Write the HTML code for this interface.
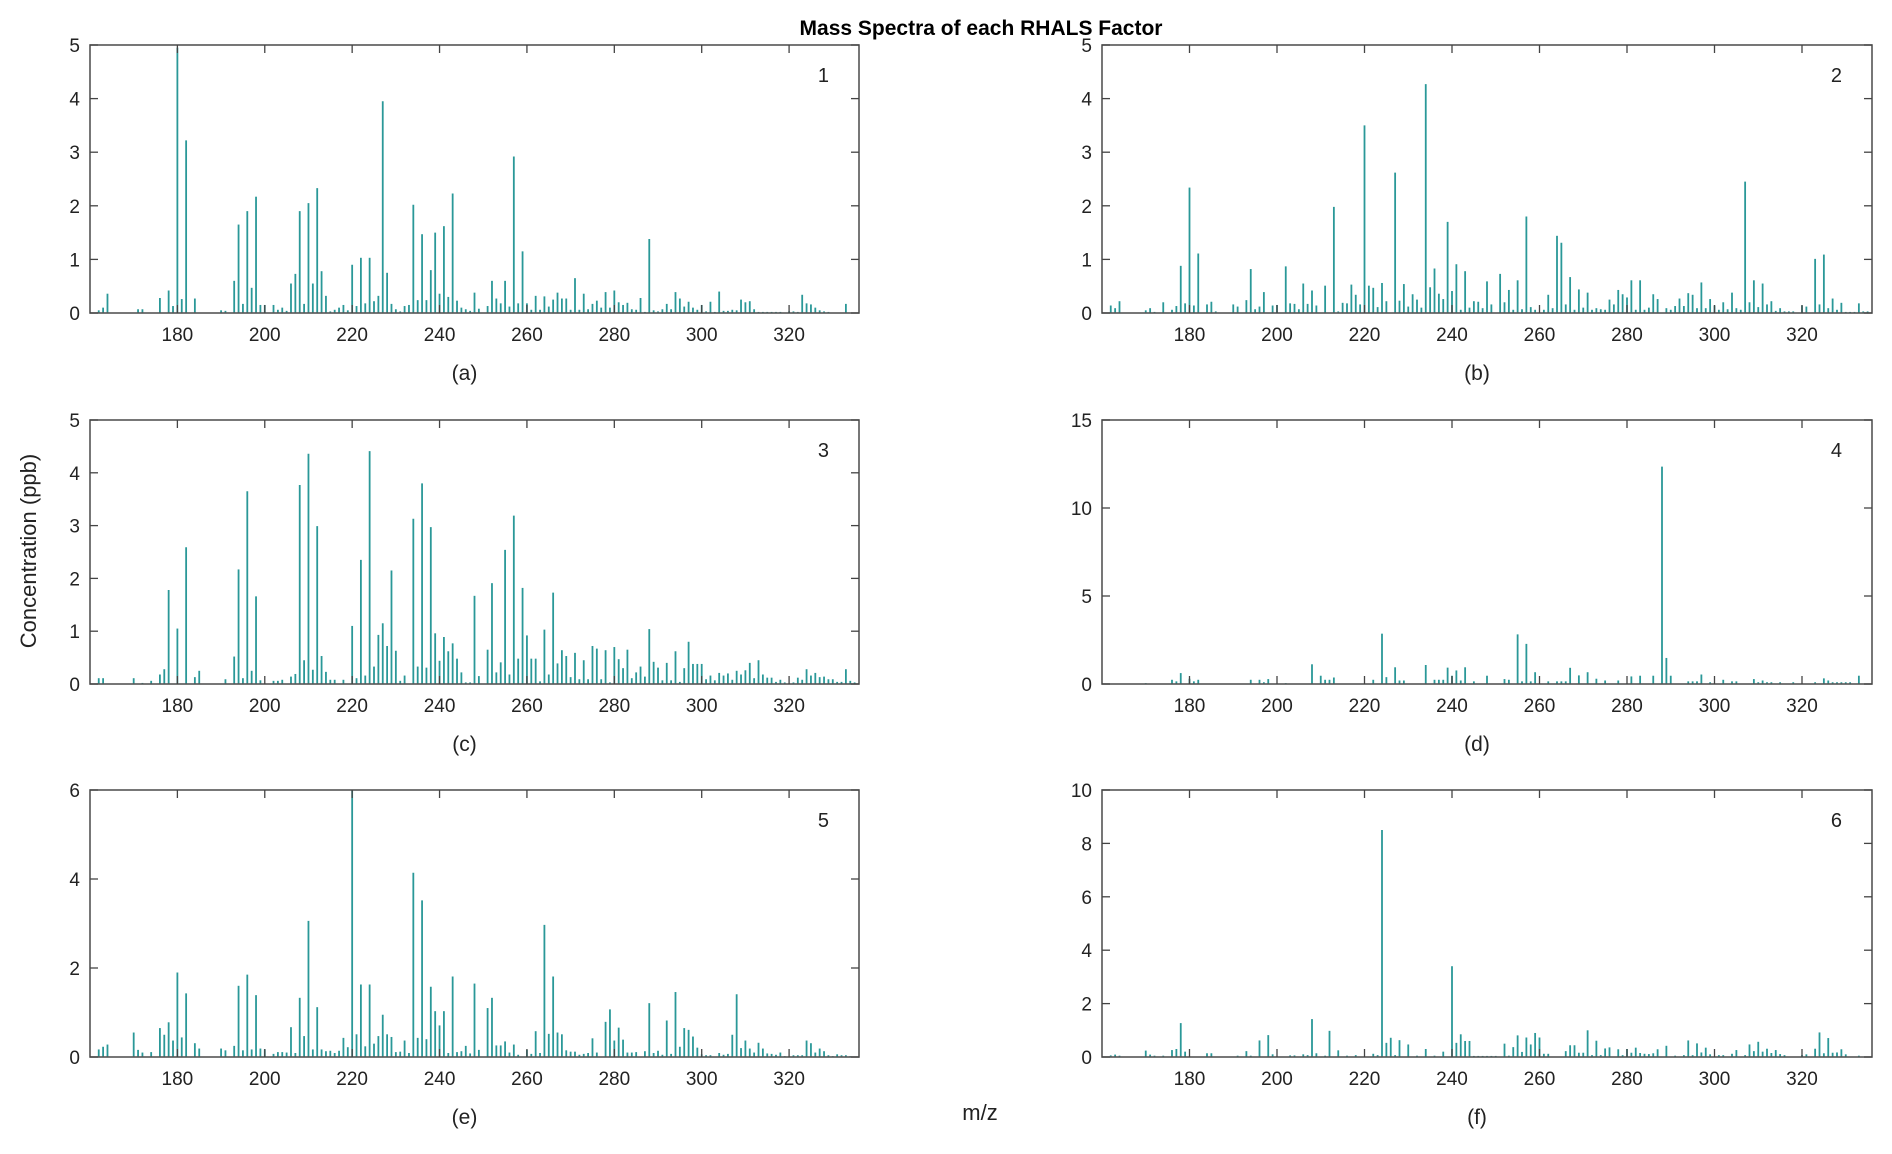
<!DOCTYPE html>
<html><head><meta charset="utf-8"><style>
html,body{margin:0;padding:0;background:#fff;}
svg{display:block;}
text{font-family:"Liberation Sans",sans-serif;fill:#222;}
</style></head><body>
<svg id="fig" width="1892" height="1154" viewBox="0 0 1892 1154" xmlns="http://www.w3.org/2000/svg">
<text x="981" y="35" text-anchor="middle" font-size="21" font-weight="bold" style="fill:#000">Mass Spectra of each RHALS Factor</text>
<text transform="translate(36,551) rotate(-90)" text-anchor="middle" font-size="22">Concentration (ppb)</text>
<text x="980" y="1120" text-anchor="middle" font-size="22">m/z</text>
<g id="panels"></g>
</svg>
<script>
const xTicks = [180,200,220,240,260,280,300,320];
const xDomain = [160,336];
const panelIds = ['1','2','3','4','5','6'];
const subLabels = ['(a)','(b)','(c)','(d)','(e)','(f)'];
const yMax = [5,5,5,15,6,10];
const yStep = [1,1,1,5,2,2];

const spec1 = [[162,.05],[163,.1],[164,.36],[171,.07],[172,.07],[176,.28],[178,.42],[179,.13],[180,4.95],[181,.26],[182,3.22],[184,.27],[190,.05],[191,.04],[193,.6],[194,1.65],[195,.17],[196,1.9],[197,.47],[198,2.17],[199,.15],[200,.15],[202,.15],[203,.06],[204,.1],[205,.04],[206,.55],[207,.73],[208,1.9],[209,.17],[210,2.05],[211,.55],[212,2.33],[213,.78],[214,.32],[215,.03],[216,.06],[217,.1],[218,.15],[219,.05],[220,.9],[221,.13],[222,1.03],[223,.18],[224,1.03],[225,.22],[226,.32],[227,3.95],[228,.75],[229,.17],[230,.07],[231,.03],[232,.13],[233,.15],[234,2.02],[235,.24],[236,1.47],[237,.24],[238,.8],[239,1.5],[240,.36],[241,1.62],[242,.3],[243,2.23],[244,.23],[245,.1],[246,.07],[247,.04],[248,.38],[249,.08],[251,.13],[252,.6],[253,.27],[254,.18],[255,.6],[256,.12],[257,2.92],[258,.18],[259,1.15],[260,.18],[261,.06],[262,.32],[263,.06],[264,.31],[265,.12],[266,.25],[267,.38],[268,.27],[269,.27],[270,.06],[271,.65],[272,.06],[273,.36],[274,.07],[275,.17],[276,.23],[277,.1],[278,.39],[279,.1],[280,.42],[281,.2],[282,.15],[283,.19],[284,.07],[285,.06],[286,.28],[287,.02],[288,1.38],[289,.05],[290,.03],[291,.07],[292,.17],[293,.07],[294,.39],[295,.27],[296,.12],[297,.21],[298,.1],[299,.06],[300,.15],[301,.03],[302,.21],[303,.02],[304,.4],[305,.04],[306,.04],[307,.06],[308,.05],[309,.25],[310,.2],[311,.22],[312,.07],[313,.02],[314,.02],[315,.02],[316,.02],[317,.02],[318,.02],[320,.03],[321,.03],[322,.02],[323,.34],[324,.18],[325,.16],[326,.1],[327,.05],[328,.03],[329,.02],[333,.17]];

const spec2 = [[162,.14],[163,.09],[164,.22],[170,.05],[171,.09],[172,.02],[174,.2],[176,.06],[177,.13],[178,.88],[179,.18],[180,2.34],[181,.14],[182,1.11],[184,.16],[185,.21],[186,.03],[190,.16],[191,.12],[193,.24],[194,.82],[195,.07],[196,.12],[197,.39],[199,.14],[200,.15],[202,.87],[203,.18],[204,.17],[205,.07],[206,.55],[207,.17],[208,.42],[209,.14],[211,.51],[213,1.98],[214,.03],[215,.19],[216,.18],[217,.53],[218,.34],[219,.16],[220,3.5],[221,.51],[222,.47],[223,.11],[224,.56],[225,.22],[227,2.62],[228,.23],[229,.54],[230,.12],[231,.35],[232,.25],[233,.1],[234,4.27],[235,.48],[236,.83],[237,.36],[238,.26],[239,1.7],[240,.41],[241,.91],[242,.06],[243,.78],[244,.1],[245,.22],[246,.21],[247,.09],[248,.59],[249,.16],[251,.73],[252,.2],[253,.43],[254,.06],[255,.61],[256,.07],[257,1.8],[258,.11],[259,.06],[261,.06],[262,.34],[263,.09],[264,1.44],[265,1.31],[266,.16],[267,.67],[268,.06],[269,.44],[270,.1],[271,.38],[272,.06],[273,.09],[274,.07],[275,.06],[276,.25],[277,.16],[278,.43],[279,.35],[280,.29],[281,.61],[282,.06],[283,.61],[284,.06],[285,.1],[286,.35],[287,.26],[289,.09],[290,.06],[291,.13],[292,.27],[293,.13],[294,.37],[295,.34],[296,.09],[297,.57],[298,.09],[299,.26],[300,.14],[301,.06],[302,.2],[303,.07],[304,.38],[305,.09],[306,.06],[307,2.45],[308,.2],[309,.61],[310,.11],[311,.55],[312,.16],[313,.22],[314,.04],[315,.09],[316,.03],[317,.03],[318,.03],[320,.14],[321,.12],[323,1.01],[324,.16],[325,1.09],[326,.09],[327,.27],[328,.06],[329,.19],[330,.02],[331,.02],[332,.02],[333,.18],[334,.03],[335,.03]];

const spec3 = [[162,.11],[163,.11],[170,.11],[172,.02],[174,.06],[176,.18],[177,.28],[178,1.78],[180,1.05],[182,2.59],[184,.13],[185,.25],[191,.09],[193,.52],[194,2.17],[195,.11],[196,3.65],[197,.25],[198,1.66],[199,.07],[202,.06],[203,.06],[204,.08],[206,.14],[207,.19],[208,3.77],[209,.45],[210,4.36],[211,.27],[212,2.99],[213,.53],[214,.23],[215,.08],[216,.08],[218,.08],[220,1.1],[221,.11],[222,2.35],[223,.16],[224,4.41],[225,.33],[226,.93],[227,1.15],[228,.72],[229,2.15],[230,.63],[231,.06],[232,.16],[234,3.13],[235,.33],[236,3.8],[237,.31],[238,2.97],[239,.96],[240,.44],[241,.89],[242,.62],[243,.77],[244,.48],[245,.22],[246,.03],[247,.03],[248,1.67],[249,.15],[251,.65],[252,1.91],[253,.22],[254,.41],[255,2.54],[256,.18],[257,3.19],[258,.48],[259,1.82],[260,.92],[261,.48],[262,.48],[263,.05],[264,1.03],[265,.18],[266,1.73],[267,.39],[268,.64],[269,.53],[270,.13],[271,.59],[272,.09],[273,.45],[274,.09],[275,.72],[276,.67],[277,.09],[278,.64],[279,.03],[280,.7],[281,.47],[282,.3],[283,.65],[284,.11],[285,.22],[286,.33],[287,.14],[288,1.04],[289,.42],[290,.31],[291,.07],[292,.4],[293,.07],[294,.62],[295,.04],[296,.3],[297,.8],[298,.38],[299,.38],[300,.38],[301,.09],[302,.16],[303,.07],[304,.21],[305,.16],[306,.2],[307,.08],[308,.25],[309,.18],[310,.26],[311,.4],[312,.11],[313,.45],[314,.18],[315,.12],[316,.12],[317,.04],[318,.08],[319,.03],[321,.03],[322,.12],[323,.08],[324,.28],[325,.16],[326,.21],[327,.13],[328,.14],[329,.09],[330,.09],[331,.04],[332,.04],[333,.28],[334,.06],[335,.03]];

const spec4 = [[170,.05],[176,.24],[177,.15],[178,.62],[180,.3],[181,.15],[182,.24],[194,.24],[196,.24],[197,.1],[198,.28],[202,.05],[208,1.12],[210,.47],[211,.24],[212,.24],[213,.37],[222,.24],[224,2.86],[225,.39],[227,.95],[228,.2],[229,.2],[234,1.08],[236,.24],[237,.24],[238,.24],[239,.93],[240,.47],[241,.77],[242,.2],[243,.95],[245,.15],[248,.47],[252,.28],[253,.24],[255,2.82],[256,.15],[257,2.28],[258,.15],[259,.67],[262,.15],[264,.15],[265,.15],[266,.15],[267,.92],[269,.49],[271,.67],[273,.3],[275,.2],[278,.2],[281,.43],[283,.47],[286,.47],[288,12.35],[289,1.48],[290,.47],[294,.15],[295,.15],[296,.15],[297,.54],[299,.1],[302,.24],[304,.15],[305,.15],[309,.28],[310,.1],[311,.2],[312,.1],[313,.1],[315,.1],[318,.1],[323,.1],[325,.32],[326,.2],[327,.1],[328,.1],[329,.1],[330,.1],[331,.1],[333,.47]];

const spec5 = [[162,.17],[163,.23],[164,.28],[170,.55],[171,.16],[172,.1],[174,.11],[176,.65],[177,.5],[178,.78],[179,.37],[180,1.9],[181,.44],[182,1.43],[184,.31],[185,.19],[190,.19],[191,.15],[193,.25],[194,1.6],[195,.15],[196,1.85],[197,.17],[198,1.39],[199,.19],[200,.17],[202,.07],[203,.11],[204,.11],[205,.1],[206,.67],[207,.09],[208,1.33],[209,.47],[210,3.06],[211,.17],[212,1.12],[213,.17],[214,.13],[215,.14],[216,.09],[217,.14],[218,.43],[219,.22],[220,6.0],[221,.51],[222,1.63],[223,.24],[224,1.63],[225,.3],[226,.47],[227,.95],[228,.51],[229,.45],[230,.11],[231,.12],[232,.37],[233,.09],[234,4.14],[235,.43],[236,3.52],[237,.4],[238,1.58],[239,1.03],[240,.71],[241,1.03],[242,.09],[243,1.81],[244,.11],[245,.13],[246,.25],[247,.08],[248,1.65],[249,.16],[251,1.1],[252,1.33],[253,.26],[254,.26],[255,.35],[256,.1],[257,.28],[258,.05],[260,.16],[261,.07],[262,.58],[263,.09],[264,2.97],[265,.52],[266,1.81],[267,.55],[268,.51],[269,.15],[270,.12],[271,.12],[272,.05],[273,.07],[274,.09],[275,.42],[276,.1],[278,.79],[279,1.07],[280,.37],[281,.66],[282,.39],[283,.1],[284,.1],[285,.11],[287,.13],[288,1.21],[289,.09],[290,.14],[291,.05],[292,.82],[293,.07],[294,1.46],[295,.23],[296,.65],[297,.61],[298,.46],[299,.21],[300,.06],[301,.04],[302,.04],[304,.09],[305,.05],[306,.07],[307,.5],[308,1.41],[309,.2],[310,.37],[311,.19],[312,.1],[313,.32],[314,.19],[315,.08],[316,.07],[317,.05],[318,.1],[319,.02],[321,.04],[322,.04],[323,.04],[324,.37],[325,.31],[326,.1],[327,.19],[328,.13],[329,.04],[330,.02],[331,.06],[332,.04],[333,.04],[334,.02]];

const spec6 = [[162,.06],[163,.09],[164,.05],[170,.24],[171,.09],[172,.05],[174,.05],[176,.26],[177,.3],[178,1.27],[179,.2],[184,.14],[185,.14],[191,.05],[193,.22],[194,.05],[196,.62],[198,.82],[199,.1],[203,.06],[204,.06],[206,.1],[207,.07],[208,1.42],[209,.14],[211,.05],[212,.98],[214,.25],[216,.05],[218,.07],[222,.12],[223,.07],[224,8.5],[225,.53],[226,.72],[227,.07],[228,.63],[230,.47],[232,.05],[234,.3],[236,.05],[238,.2],[240,3.4],[241,.53],[242,.85],[243,.6],[244,.6],[245,.04],[246,.04],[247,.04],[248,.04],[249,.04],[250,.04],[252,.5],[253,.05],[254,.37],[255,.81],[256,.19],[257,.73],[258,.47],[259,.9],[260,.73],[261,.12],[262,.12],[266,.22],[267,.44],[268,.44],[269,.16],[270,.16],[271,1.0],[272,.07],[273,.61],[274,.07],[275,.32],[276,.36],[278,.29],[279,.07],[280,.3],[281,.16],[282,.35],[283,.15],[284,.12],[285,.11],[286,.14],[287,.29],[289,.42],[291,.05],[293,.07],[294,.62],[295,.07],[296,.51],[297,.17],[298,.35],[299,.1],[301,.07],[302,.07],[304,.12],[305,.26],[307,.07],[308,.47],[309,.22],[310,.57],[311,.2],[312,.31],[313,.15],[314,.26],[315,.11],[316,.07],[320,.07],[321,.1],[323,.31],[324,.92],[325,.14],[326,.71],[327,.16],[328,.17],[329,.29],[330,.1],[333,.05]];

const spectra = [spec1,spec2,spec3,spec4,spec5,spec6];
const NS = 'http://www.w3.org/2000/svg';
const colLeft = [90,1102], colRight = [859,1872];
const rowTop = [45,420,790], rowBottom = [313,684,1057];

function mk(tag, attrs, parent){
  const e = document.createElementNS(NS, tag);
  for (const k in attrs) e.setAttribute(k, attrs[k]);
  parent.appendChild(e);
  return e;
}

const root = document.getElementById('panels');
for (let p = 0; p < 6; p++) {
  const col = p % 2, row = Math.floor(p / 2);
  const L = colLeft[col], R = colRight[col], T = rowTop[row], B = rowBottom[row];
  const xs = v => L + (v - xDomain[0]) / (xDomain[1] - xDomain[0]) * (R - L);
  const ys = v => B - v / yMax[p] * (B - T);
  const g = mk('g', {}, root);
  
  

  // bars
  spectra[p].forEach(d => {
    const bar = mk('line', {x1: xs(d[0]), x2: xs(d[0]), y1: B, y2: ys(d[1]), stroke: '#2a9898', 'stroke-width': 1.8}, g);
    
    
  });

  // frame
  const frame = mk('rect', {x: L, y: T, width: R - L, height: B - T, fill: 'none', stroke: '#555', 'stroke-width': 1.6}, g);
  
  

  // x ticks
  xTicks.forEach(t => {
    const x = xs(t);
    mk('line', {x1: x, x2: x, y1: B, y2: B - 8, stroke: '#444', 'stroke-width': 1.3}, g);
    mk('line', {x1: x, x2: x, y1: T, y2: T + 8, stroke: '#444', 'stroke-width': 1.3}, g);
    const lbl = mk('text', {x: x, y: B + 28, 'text-anchor': 'middle', 'font-size': 19}, g);
    lbl.textContent = t;
    
    
  });

  // y ticks
  for (let v = 0; v <= yMax[p] + 1e-9; v += yStep[p]) {
    const y = ys(v);
    mk('line', {x1: L, x2: L + 8, y1: y, y2: y, stroke: '#444', 'stroke-width': 1.3}, g);
    mk('line', {x1: R, x2: R - 8, y1: y, y2: y, stroke: '#444', 'stroke-width': 1.3}, g);
    const lbl = mk('text', {x: L - 10, y: y + 7, 'text-anchor': 'end', 'font-size': 19}, g);
    lbl.textContent = v;
    
    
  }

  // factor number
  const num = mk('text', {x: R - 30, y: T + 37, 'text-anchor': 'end', 'font-size': 20}, g);
  num.textContent = panelIds[p];
  
  

  // sub label
  const sl = mk('text', {x: (L + R) / 2 - 10, y: B + 67, 'text-anchor': 'middle', 'font-size': 21}, g);
  sl.textContent = subLabels[p];
  
  
}
</script>
</body></html>
